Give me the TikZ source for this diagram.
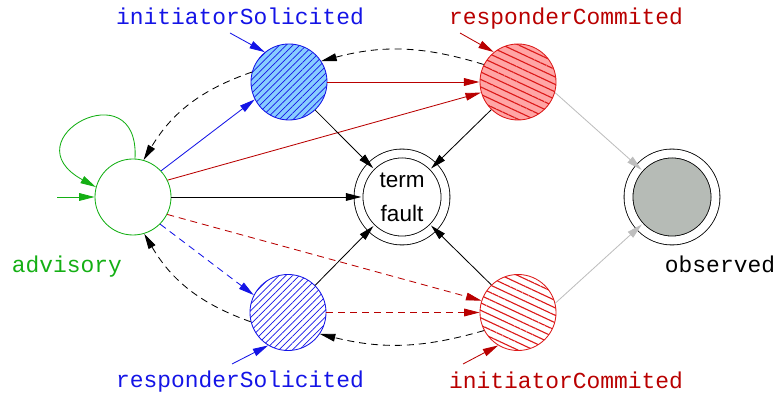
\documentclass[tikz,border=0pt]{standalone}
\usepackage{fontspec}
\setmainfont{Liberation Sans}
\setmonofont{Liberation Mono}
\usetikzlibrary{arrows.meta,patterns.meta}

\definecolor{stblue}{RGB}{20,20,230}
\definecolor{stlightblue}{RGB}{135,205,255}
\definecolor{stred}{RGB}{185,0,0}
\definecolor{stbrightred}{RGB}{220,25,25}
\definecolor{stpink}{RGB}{255,165,165}
\definecolor{stgreen}{RGB}{20,175,20}
\definecolor{stgray}{RGB}{190,190,190}
\definecolor{stfill}{RGB}{182,187,182}

\tikzset{
  state/.style={circle, draw, minimum size=1.9cm, inner sep=0pt},
  final/.style={circle, draw, double, double distance=0.2cm, minimum size=2.175cm,
    inner sep=0pt, outer sep=-0.07cm},
  statename/.style={font=\ttfamily\fontsize{16.3}{19}\selectfont, anchor=base},
  tr/.style={-{Triangle[length=11pt,width=5.5pt]}},
  dsh/.style={dash pattern=on 5pt off 3.5pt},
}

\begin{document}
\begin{tikzpicture}[x=0.025cm, y=0.025cm, line width=0.6pt]
  \useasboundingbox (0,0) rectangle (775,399);

  % states
  \node[state, draw=stgreen] (advisory) at (133,202) {};
  \node[state, draw=stblue, preaction={fill=stlightblue},
    pattern={Lines[angle=45,distance=3.4pt,line width=0.5pt]}, pattern color=stblue
  ] (initSol) at (289,317) {};
  \node[state, draw=stbrightred, preaction={fill=stpink},
    pattern={Lines[angle=-25,distance=4.8pt,line width=0.8pt]}, pattern color=stbrightred
  ] (respCom) at (518,317) {};
  \node[state, draw=stblue,
    pattern={Lines[angle=45,distance=3.4pt,line width=0.5pt]}, pattern color=stblue
  ] (respSol) at (288,86.5) {};
  \node[state, draw=stbrightred,
    pattern={Lines[angle=-25,distance=4.8pt,line width=0.8pt]}, pattern color=stbrightred
  ] (initCom) at (518,86.5) {};
  \node[final, align=center, font=\fontsize{16}{24}\selectfont] (termFault) at (402,202) {term\\fault};
  \node[final, fill=stfill] (observed) at (672,202) {};

  % state names
  \node[statename, text=stblue] (initSolName) at (240,374) {initiatorSolicited};
  \node[statename, text=stred] (respComName) at (566,374) {responderCommited};
  \node[statename, text=stgreen] (advisoryName) at (67,126) {advisory};
  \node[statename, text=black] (observedName) at (720,126) {observed};
  \node[statename, text=stblue] (respSolName) at (240,11) {responderSolicited};
  \node[statename, text=stred] (initComName) at (566,10) {initiatorCommited};

  % entry arrows
  \coordinate (advisoryIn) at (57,202);
  \coordinate (initSolIn) at (230,366);
  \coordinate (respComIn) at (460,366);
  \coordinate (respSolIn) at (232,35);
  \coordinate (initComIn) at (463,35);
  \draw[tr, stgreen] (advisoryIn) -- (advisory.west);
  \draw[tr, stblue] (initSolIn) -- (initSol.129);
  \draw[tr, stred] (respComIn) -- (respCom.129);
  \draw[tr, stblue] (respSolIn) -- (respSol.239);
  \draw[tr, stred] (initComIn) -- (initCom.239);

  % self loop
  \draw[tr, stgreen] (advisory.87) .. controls +(5,90) and +(-88,48) .. (advisory.165);

  % from advisory
  \draw[tr, stblue] (advisory.43) -- (initSol.207);
  \draw[tr, stred] (advisory.26) -- (respCom.196);
  \draw[tr] (advisory.east) -- (termFault);
  \draw[tr, dsh, stblue] (advisory.315) -- (respSol.153);
  \draw[tr, dsh, stred] (advisory.333) -- (initCom.162);

  % solicited -> commited
  \draw[tr, stred] (initSol.east) -- (respCom.west);
  \draw[tr, dsh, stred] (respSol.east) -- (initCom.west);

  % to term fault
  \draw[tr] (initSol.313) -- (termFault);
  \draw[tr] (respCom.226) -- (termFault);
  \draw[tr] (respSol.45) -- (termFault);
  \draw[tr] (initCom.134) -- (termFault);

  % back edges
  \draw[tr, dsh] (respCom.153) to[bend right=16] (initSol.33);
  \draw[tr, dsh] (initCom.208) to[bend left=15] (respSol.326);
  \draw[tr, dsh] (initSol.165) to[bend right=20] (advisory.74);
  \draw[tr, dsh] (respSol.194) to[bend left=20] (advisory.287);

  % to observed
  \draw[tr, stgray] (respCom.344) -- (observed);
  \draw[tr, stgray] (initCom.14) -- (observed);
\end{tikzpicture}
\end{document}
